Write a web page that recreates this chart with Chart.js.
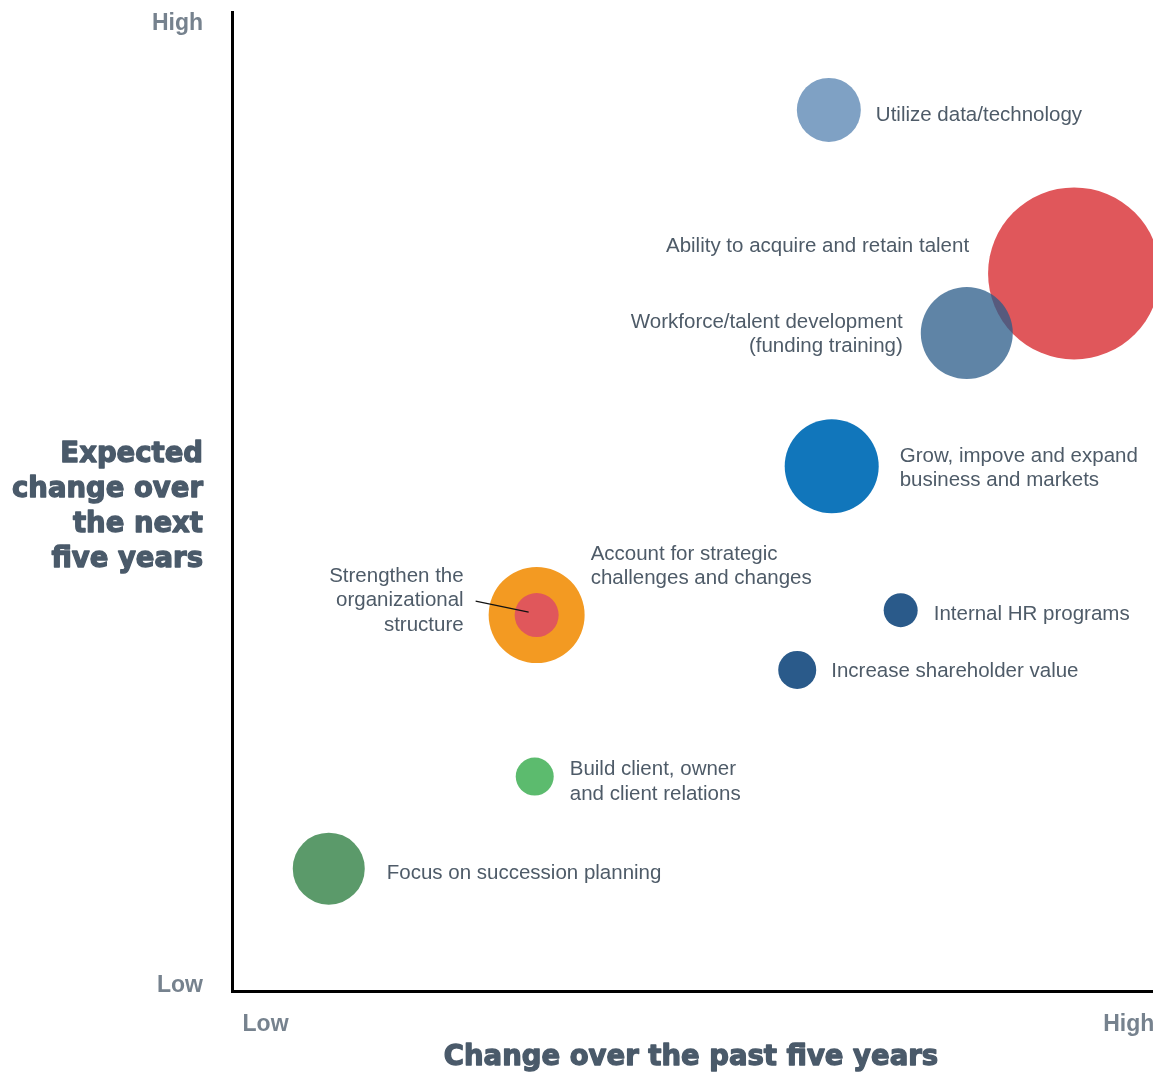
<!DOCTYPE html>
<html>
<head>
<meta charset="utf-8">
<script src="https://cdn.jsdelivr.net/npm/chart.js@4.4.1/dist/chart.umd.min.js"></script>
<style>
  html, body { margin: 0; padding: 0; overflow: hidden; background: #fff; }
  #wrap { position: absolute; left: 0; top: 0; width: 1200px; height: 1073px; }
</style>
</head>
<body>
<div id="wrap"><canvas id="chart"></canvas></div>
<script>
// bubble chart data (draw order matters: later bubbles sit on top)
var topics = [
  ['Focus on succession planning'],
  ['Build client, owner', 'and client relations'],
  ['Account for strategic', 'challenges and changes'],
  ['Strengthen the', 'organizational', 'structure'],
  ['Increase shareholder value'],
  ['Internal HR programs'],
  ['Grow, impove and expand', 'business and markets'],
  ['Ability to acquire and retain talent'],
  ['Workforce/talent development', '(funding training)'],
  ['Utilize data/technology']
];
var pastChange = [1.01, 3.16, 3.18, 3.18, 5.90, 6.98, 6.26, 8.79, 7.67, 6.23];
var expectedChange = [1.25, 2.19, 3.84, 3.84, 3.28, 3.89, 5.36, 7.33, 6.72, 9.00];
var bubbleSize = [36, 19, 48, 22, 19, 17, 47, 86, 46, 32];

var xTickValues = [0.35, 9.36];
var xTickLabels = ['Low', 'High'];
var yTickValues = [0.05, 9.88];
var yTickLabels = ['Low', 'High'];

var xTitle = 'Change over the past five years';
var yTitle = ['Expected', 'change over', 'the next', 'five years'];

// styling / layout
var colors = ['#5b9a6a', '#5cbb6e', '#f39a22', '#e0575b', '#2a5a8a', '#2a5a8a',
              '#1176bb', '#e0575b', 'rgba(42,91,136,0.75)', '#7fa1c4'];
var labelPlace = [
  {dx: 58, dy: 5, align: 'left'},
  {dx: 35, dy: -7, align: 'left'},
  {dx: 54, dy: -61, align: 'left'},
  {dx: -73, dy: -39, align: 'right', leader: [-61, -14, -8, -3]},
  {dx: 34, dy: 1, align: 'left'},
  {dx: 33, dy: 4, align: 'left'},
  {dx: 68, dy: -10, align: 'left'},
  {dx: -105, dy: -27, align: 'right'},
  {dx: -64, dy: -11, align: 'right'},
  {dx: 47, dy: 5, align: 'left'}
];
var lineH = 24.5;
var labelFont = '20.5px "Liberation Sans", Arial, sans-serif';
var labelColor = '#4e5b68';
var titleFont = 'bold 27.5px "DejaVu Sans", sans-serif';
var titleColor = '#4a5a6a';
var tickFont = {family: '"Liberation Sans", Arial, sans-serif', size: 23, weight: 'bold'};
var tickColor = '#76828e';

var points = pastChange.map(function(x, i) {
  return {x: x, y: expectedChange[i], r: bubbleSize[i]};
});

var bubbleLabels = {
  id: 'bubbleLabels',
  afterDatasetsDraw: function(chart) {
    var ctx = chart.ctx;
    var meta = chart.getDatasetMeta(0);
    ctx.save();
    ctx.font = labelFont;
    ctx.fillStyle = labelColor;
    ctx.textBaseline = 'middle';
    meta.data.forEach(function(el, i) {
      var p = labelPlace[i];
      ctx.textAlign = p.align;
      topics[i].forEach(function(line, j) {
        ctx.fillText(line, el.x + p.dx, el.y + p.dy + j * lineH);
      });
      if (p.leader) {
        ctx.beginPath();
        ctx.strokeStyle = '#111';
        ctx.lineWidth = 1.2;
        ctx.moveTo(el.x + p.leader[0], el.y + p.leader[1]);
        ctx.lineTo(el.x + p.leader[2], el.y + p.leader[3]);
        ctx.stroke();
      }
    });
    ctx.restore();
  }
};

var axisTitles = {
  id: 'axisTitles',
  afterDraw: function(chart) {
    var ctx = chart.ctx;
    ctx.save();
    ctx.font = titleFont;
    ctx.fillStyle = titleColor;
    ctx.strokeStyle = titleColor;
    ctx.lineWidth = 1.3;
    ctx.lineJoin = 'round';
    ctx.textBaseline = 'middle';
    ctx.textAlign = 'right';
    yTitle.forEach(function(line, j) {
      ctx.fillText(line, 203, 455 + j * 35);
      ctx.strokeText(line, 203, 455 + j * 35);
    });
    ctx.textAlign = 'center';
    ctx.fillText(xTitle, 691, 1058);
    ctx.strokeText(xTitle, 691, 1058);
    ctx.restore();
  }
};

new Chart(document.getElementById('chart'), {
  type: 'bubble',
  data: {
    datasets: [{
      data: points,
      backgroundColor: colors,
      borderWidth: 0,
      hoverBorderWidth: 0,
      clip: false
    }]
  },
  options: {
    responsive: true,
    maintainAspectRatio: false,
    animation: false,
    events: [],
    layout: {autoPadding: false, padding: {top: 12, right: 10, left: 0, bottom: 0}},
    plugins: {legend: {display: false}, tooltip: {enabled: false}},
    scales: {
      x: {
        type: 'linear', min: 0, max: 10,
        grid: {display: false, drawTicks: false},
        border: {display: true, color: '#000', width: 3},
        ticks: {
          autoSkip: false, padding: 20, font: tickFont, color: tickColor,
          callback: function(v) { var k = xTickValues.indexOf(v); return k >= 0 ? xTickLabels[k] : ''; }
        },
        afterBuildTicks: function(s) { s.ticks = xTickValues.map(function(v) { return {value: v}; }); },
        afterFit: function(s) { s.height = 82; s.paddingLeft = 0; s.paddingRight = 0; }
      },
      y: {
        type: 'linear', min: 0, max: 10,
        grid: {display: false, drawTicks: false},
        border: {display: true, color: '#000', width: 3},
        ticks: {
          autoSkip: false, padding: 29, font: tickFont, color: tickColor,
          callback: function(v) { var k = yTickValues.indexOf(v); return k >= 0 ? yTickLabels[k] : ''; }
        },
        afterBuildTicks: function(s) { s.ticks = yTickValues.map(function(v) { return {value: v}; }); },
        afterFit: function(s) { s.width = 232; s.paddingTop = 0; s.paddingBottom = 0; }
      }
    }
  },
  plugins: [bubbleLabels, axisTitles]
});
</script>
</body>
</html>
